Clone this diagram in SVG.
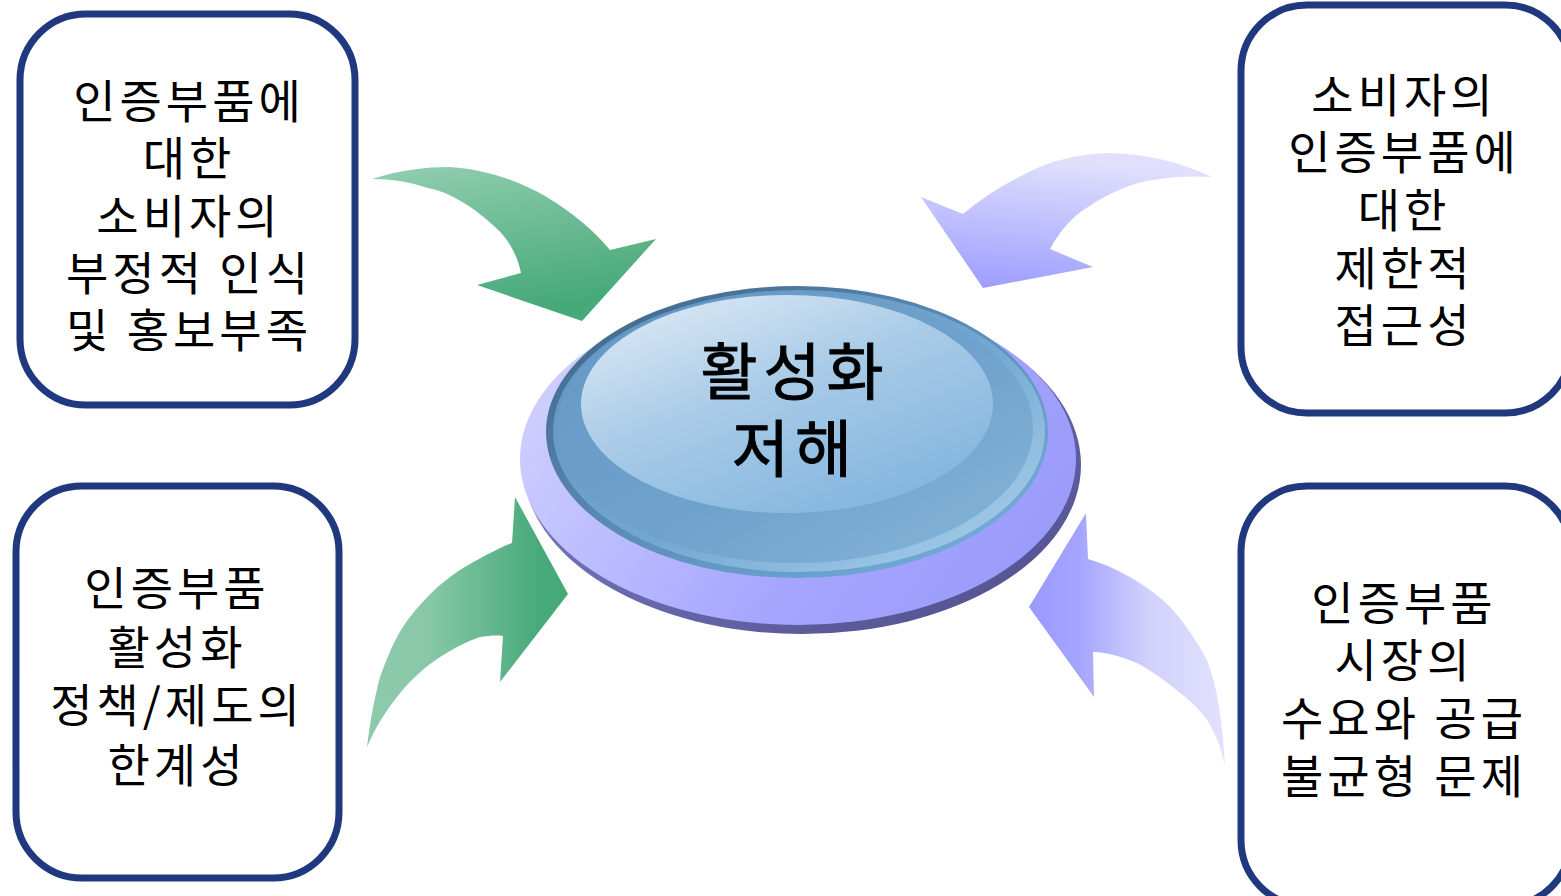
<svg xmlns="http://www.w3.org/2000/svg" width="1561" height="896" viewBox="0 0 1561 896">
  <defs>
    <style>
      .box { fill: #ffffff; stroke: #1f387e; stroke-width: 7; }
      .lbl { font-family: "Noto Sans CJK KR", "Noto Sans", sans-serif; font-size: 46px; fill: #000000; text-anchor: middle; dominant-baseline: central; letter-spacing: 4px; }
      .core { font-family: "Noto Sans CJK KR", "Noto Sans", sans-serif; font-size: 62px; fill: #000000; stroke: #000000; stroke-width: 1; text-anchor: middle; dominant-baseline: central; letter-spacing: 6px; }
    </style>
    <linearGradient id="greenDown" x1="0" y1="0" x2="0.3" y2="1">
      <stop offset="0" stop-color="#92ceb0"/>
      <stop offset="1" stop-color="#45a978"/>
    </linearGradient>
    <linearGradient id="greenRight" x1="0" y1="0" x2="1" y2="0">
      <stop offset="0" stop-color="#8ccaaa"/>
      <stop offset="0.3" stop-color="#88c8a8"/>
      <stop offset="0.85" stop-color="#48aa7b"/>
      <stop offset="1" stop-color="#45a978"/>
    </linearGradient>
    <linearGradient id="lilacDown" x1="0.2" y1="0" x2="0" y2="1">
      <stop offset="0" stop-color="#e0e0fd"/>
      <stop offset="1" stop-color="#9a9aff"/>
    </linearGradient>
    <linearGradient id="lilacLeft" x1="0" y1="0" x2="1" y2="0">
      <stop offset="0" stop-color="#9a9aff"/>
      <stop offset="0.25" stop-color="#a4a4ff"/>
      <stop offset="0.6" stop-color="#d0d0fc"/>
      <stop offset="1" stop-color="#e2e2fd"/>
    </linearGradient>
    <linearGradient id="baseFill" x1="0" y1="0.3" x2="1" y2="0.7">
      <stop offset="0" stop-color="#d0d0ff"/>
      <stop offset="0.6" stop-color="#a6a6ff"/>
      <stop offset="1" stop-color="#9a9afa"/>
    </linearGradient>
    <linearGradient id="baseEdge" x1="0" y1="0" x2="1" y2="1">
      <stop offset="0" stop-color="#8a8ad0"/>
      <stop offset="0.6" stop-color="#6464a8"/>
      <stop offset="1" stop-color="#4e4e88"/>
    </linearGradient>
    <linearGradient id="rimFill" x1="0" y1="0" x2="1" y2="1">
      <stop offset="0" stop-color="#3c6183"/>
      <stop offset="0.5" stop-color="#5b8db8"/>
      <stop offset="1" stop-color="#78b4e0"/>
    </linearGradient>
    <linearGradient id="bevelFill" x1="0" y1="0" x2="1" y2="1">
      <stop offset="0" stop-color="#5d8fba"/>
      <stop offset="0.55" stop-color="#73a8d2"/>
      <stop offset="1" stop-color="#b0d4ef"/>
    </linearGradient>
    <linearGradient id="faceFill" x1="0.1" y1="0" x2="0.8" y2="1">
      <stop offset="0" stop-color="#dfebf6"/>
      <stop offset="0.45" stop-color="#a9cbe7"/>
      <stop offset="1" stop-color="#7fb4de"/>
    </linearGradient>
  </defs>

  <!-- connectors: curved block arrows pointing at the centre -->
  <g id="connectors">
    <path id="arrow-tl" fill="url(#greenDown)" d="M372,179 C400,170 425,167 450,167 C490,170 520,182 545,196 C575,214 595,232 610,250 L656,239 L582,321 L477,285 L521,273 C518,258 510,240 495,227 C475,208 450,192 428,188 C410,182 392,179 372,179 Z"/>
    <path id="arrow-tr" fill="url(#lilacDown)" d="M1212,177 C1180,162 1145,153 1107,153 C1075,154 1050,162 1033,170 C1005,183 982,198 963,214 L921,197 L983,288 L1093,267 L1050,249 C1058,234 1070,218 1088,207 C1110,192 1135,182 1153,180 C1175,176 1195,176 1212,177 Z"/>
    <path id="arrow-bl" fill="url(#greenRight)" d="M367,747 C370,722 374,700 380,677 C390,650 398,632 410,617 C425,598 440,583 460,570 C480,558 497,549 512,543 L515,497 L568,594 L500,682 L503,636 C495,635 487,636 480,637 C465,642 455,648 440,657 C425,667 410,680 397,697 C385,712 375,728 367,747 Z"/>
    <path id="arrow-br" fill="url(#lilacLeft)" d="M1086,513 L1088,559 C1102,563 1116,569 1130,577 C1148,588 1162,598 1173,610 C1188,628 1198,643 1207,660 C1218,688 1223,725 1225,767 C1222,750 1216,734 1207,720 C1198,708 1190,700 1180,693 C1165,680 1150,670 1137,663 C1120,656 1106,652 1093,652 L1094,697 L1029,607 Z"/>
  </g>

  <!-- centre button -->
  <g id="center">
    <ellipse cx="802" cy="465" rx="279" ry="169" fill="url(#baseEdge)"/>
    <ellipse cx="798" cy="459" rx="278" ry="166" fill="url(#baseFill)"/>
    <ellipse cx="797" cy="432" rx="251" ry="146" fill="url(#rimFill)"/>
    <ellipse cx="799" cy="431" rx="246" ry="141" fill="url(#bevelFill)"/>
    <ellipse cx="795" cy="428" rx="238" ry="135" fill="#6c9fc9" opacity="0.55"/>
    <ellipse cx="787" cy="404" rx="206" ry="109" fill="url(#faceFill)"/>
    <text class="core" x="795" y="368">활성화</text>
    <text class="core" x="795" y="445">저해</text>
  </g>

  <g id="box-top-left">
    <rect class="box" x="20" y="14" width="335" height="391" rx="66"/>
    <text class="lbl" x="189" y="98">인증부품에</text>
    <text class="lbl" x="189" y="155">대한</text>
    <text class="lbl" x="189" y="213">소비자의</text>
    <text class="lbl" x="189" y="270">부정적 인식</text>
    <text class="lbl" x="189" y="327">및 홍보부족</text>
  </g>

  <g id="box-top-right">
    <rect class="box" x="1241" y="5" width="330" height="408" rx="66"/>
    <text class="lbl" x="1404" y="92">소비자의</text>
    <text class="lbl" x="1404" y="149">인증부품에</text>
    <text class="lbl" x="1404" y="207">대한</text>
    <text class="lbl" x="1404" y="265">제한적</text>
    <text class="lbl" x="1404" y="322">접근성</text>
  </g>

  <g id="box-bottom-left">
    <rect class="box" x="16" y="486" width="323" height="392" rx="66"/>
    <text class="lbl" x="177" y="585">인증부품</text>
    <text class="lbl" x="177" y="644">활성화</text>
    <text class="lbl" x="177" y="702">정책/제도의</text>
    <text class="lbl" x="177" y="762">한계성</text>
  </g>

  <g id="box-bottom-right">
    <rect class="box" x="1241" y="486" width="330" height="420" rx="66"/>
    <text class="lbl" x="1404" y="600">인증부품</text>
    <text class="lbl" x="1404" y="657">시장의</text>
    <text class="lbl" x="1404" y="715">수요와 공급</text>
    <text class="lbl" x="1404" y="773">불균형 문제</text>
  </g>
</svg>
